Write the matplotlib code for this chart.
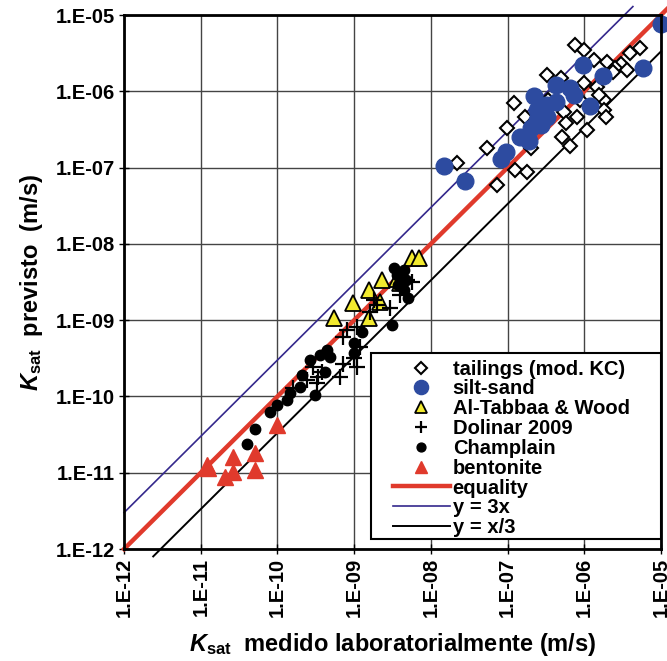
import matplotlib
matplotlib.use("Agg")
import matplotlib.pyplot as plt
from matplotlib.patches import Rectangle
import numpy as np

plt.rcParams.update({
    "font.family": "Liberation Sans",
    "font.weight": "bold",
    "mathtext.fontset": "custom",
    "mathtext.rm": "Liberation Sans:bold",
    "mathtext.it": "Liberation Sans:italic:bold",
    "mathtext.bf": "Liberation Sans:bold",
})

# measured vs predicted Ksat (m/s)
tailings_x = [7.5e-7, 9.9e-7, 5.4e-6, 4.0e-6, 1.33e-6, 2.0e-6, 3.0e-6, 2.55e-6, 3.6e-6,
              3.3e-7, 4.9e-7, 9.9e-7, 1.47e-6, 1.2e-7, 1.7e-7, 8.9e-7, 1.8e-6, 5.4e-7,
              8.1e-7, 1.8e-6, 1.9e-6, 5.7e-7, 9.8e-8, 1.1e-6, 5.1e-7, 6.6e-7, 5.4e-8,
              2.0e-7, 2.2e-8, 1.26e-7, 1.8e-7, 7.3e-8, 2.35e-6, 1.55e-6, 3.4e-7]
tailings_y = [4.0e-6, 3.5e-6, 3.7e-6, 3.15e-6, 2.6e-6, 2.45e-6, 2.3e-6, 2.0e-6, 1.9e-6,
              1.64e-6, 1.48e-6, 1.27e-6, 1.15e-6, 7.1e-7, 4.65e-7, 7.7e-7, 7.7e-7, 5.4e-7,
              4.65e-7, 5.7e-7, 4.65e-7, 3.8e-7, 3.3e-7, 3.1e-7, 2.55e-7, 1.9e-7, 1.8e-7,
              1.8e-7, 1.14e-7, 9.3e-8, 8.8e-8, 5.9e-8, 1.8e-6, 8.9e-7, 7.8e-7]

siltsand_x = [1.0e-5, 9.7e-7, 5.8e-6, 1.75e-6, 4.3e-7, 6.6e-7, 7.3e-7, 2.24e-7, 4.3e-7,
              1.2e-6, 2.4e-7, 3.3e-7, 2.4e-7, 2.0e-7, 1.47e-7, 1.9e-7, 9.4e-8, 8.1e-8,
              1.47e-8, 2.8e-8, 3.2e-7, 2.7e-7]
siltsand_y = [7.6e-6, 2.2e-6, 2.0e-6, 1.6e-6, 1.2e-6, 1.1e-6, 9.0e-7, 8.75e-7, 7.3e-7,
              6.4e-7, 5.7e-7, 4.65e-7, 4.2e-7, 3.3e-7, 2.55e-7, 2.2e-7, 1.6e-7, 1.3e-7,
              1.05e-7, 6.7e-8, 6.6e-7, 3.6e-7]

altabbaa_x = [5.4e-10, 9.6e-10, 1.54e-9, 2.3e-9, 1.54e-9, 2.2e-9, 5.7e-9, 6.9e-9, 3.6e-9, 4.0e-9]
altabbaa_y = [1.06e-9, 1.7e-9, 2.5e-9, 3.4e-9, 1.06e-9, 1.75e-9, 6.5e-9, 6.5e-9, 3.5e-9, 3.05e-9]

dolinar_x = [1.79e-9, 1.98e-9, 2.95e-9, 4.0e-9, 4.9e-9, 8.0e-10, 1.08e-9, 1.2e-9, 9.8e-10,
             7.2e-10, 1.08e-9, 6.6e-10, 2.94e-10, 3.4e-10, 3.26e-10, 2.4e-10, 1.6e-10,
             3.8e-10, 1.62e-9, 7.2e-10, 5.7e-9]
dolinar_y = [1.84e-9, 1.58e-9, 1.43e-9, 2.14e-9, 3.4e-9, 7.4e-10, 8.2e-10, 4.5e-10, 3.2e-10,
             2.7e-10, 2.45e-10, 1.8e-10, 2.45e-10, 1.8e-10, 1.49e-10, 1.64e-10, 1.28e-10,
             2.1e-10, 1.29e-9, 6.1e-10, 3.2e-9]

champlain_x = [3.3e-9, 4.4e-9, 3.6e-9, 5.1e-9, 4.4e-9, 3.1e-9, 1.26e-9, 9.8e-10, 9.8e-10,
               4.4e-10, 3.6e-10, 4.9e-10, 2.67e-10, 4.2e-10, 2.07e-10, 3.1e-10, 1.97e-10,
               1.46e-10, 1.32e-10, 9.8e-11, 8.0e-11, 5.1e-11, 4.0e-11, 3.75e-9, 4.7e-9]
champlain_y = [4.8e-9, 4.55e-9, 3.9e-9, 1.94e-9, 2.5e-9, 8.6e-10, 7.1e-10, 5.0e-10, 3.7e-10,
               4.1e-10, 3.5e-10, 3.3e-10, 3.0e-10, 2.1e-10, 1.9e-10, 1.05e-10, 1.34e-10,
               1.1e-10, 9.0e-11, 7.7e-11, 6.3e-11, 3.8e-11, 2.4e-11, 2.9e-9, 3.4e-9]

bentonite_x = [1.19e-11, 1.25e-11, 9.8e-11, 2.65e-11, 5.1e-11, 2.65e-11, 2.07e-11, 5.1e-11]
bentonite_y = [1.26e-11, 1.15e-11, 4.2e-11, 1.63e-11, 1.8e-11, 1.03e-11, 8.9e-12, 1.09e-11]

# reference line extents
eq_x = [1e-12, 1.2e-5]
y3x_x = [1e-12, 4.3e-6]
yx3_x = [2.4e-12, 1.0e-5]

ticks = [1e-12, 1e-11, 1e-10, 1e-9, 1e-8, 1e-7, 1e-6, 1e-5]
tick_labels = ["1.E-12", "1.E-11", "1.E-10", "1.E-09", "1.E-08", "1.E-07", "1.E-06", "1.E-05"]

fig = plt.figure(figsize=(6.67, 6.61), dpi=100)
ax = fig.add_axes([0.186, 0.1694, 0.805, 0.8079])
ax.set_xscale("log")
ax.set_yscale("log")
ax.set_xlim(1e-12, 1e-5)
ax.set_ylim(1e-12, 1e-5)

ax.plot(tailings_x, tailings_y, linestyle="none", marker="D", ms=7.5, mfc="white",
        mec="black", mew=1.5, label="tailings (mod. KC)", zorder=3)
ax.plot(siltsand_x, siltsand_y, linestyle="none", marker="o", ms=12, mfc="#2d4ba0",
        mec="#2d4ba0", label="silt-sand", zorder=4, clip_on=False)
ax.plot(altabbaa_x, altabbaa_y, linestyle="none", marker="^", ms=11, mfc="#f2ea2e",
        mec="black", mew=1.3, label="Al-Tabbaa & Wood", zorder=3)
ax.plot(dolinar_x, dolinar_y, linestyle="none", marker="+", ms=11, mec="black",
        mew=1.6, label="Dolinar 2009", zorder=3)
ax.plot(champlain_x, champlain_y, linestyle="none", marker="o", ms=7.5, mfc="black",
        mec="black", label="Champlain", zorder=3)
ax.plot(bentonite_x, bentonite_y, linestyle="none", marker="^", ms=11, mfc="#e03a2c",
        mec="#e03a2c", label="bentonite", zorder=3)

eq_x = np.array(eq_x)
y3x_x = np.array(y3x_x)
yx3_x = np.array(yx3_x)
ax.plot(eq_x, eq_x, color="#e03a2c", lw=3.2, label="equality", zorder=2, clip_on=False)
ax.plot(y3x_x, 3 * y3x_x, color="#34288c", lw=1.2, label="y = 3x", zorder=2, clip_on=False)
ax.plot(yx3_x, yx3_x / 3, color="black", lw=1.4, label="y = x/3", zorder=2, clip_on=False)

ax.set_xticks(ticks)
ax.set_xticklabels(tick_labels, rotation=90)
ax.set_yticks(ticks)
ax.set_yticklabels(tick_labels)
ax.minorticks_off()
ax.tick_params(axis="both", labelsize=14.5, length=7, width=1, direction="inout", pad=3)
for lab in ax.get_xticklabels() + ax.get_yticklabels():
    lab.set_fontweight("bold")

ax.grid(True, which="major", color="#444444", lw=1.0, zorder=0)
ax.set_axisbelow(True)
for sp in ax.spines.values():
    sp.set_linewidth(2.0)
    sp.set_zorder(5)

ax.set_xlabel(r"$K_{\mathrm{sat}}$  medido laboratorialmente (m/s)", fontsize=17,
              fontweight="bold", labelpad=10)
ax.set_ylabel(r"$K_{\mathrm{sat}}$  previsto  (m/s)", fontsize=17,
              fontweight="bold", labelpad=8)

# legend box drawn by hand: wider than its contents, as in the source figure
box = Rectangle((0.46, 0.0187), 0.54, 0.348, transform=ax.transAxes, facecolor="white",
                edgecolor="black", lw=1.5, zorder=6, clip_on=False)
ax.add_patch(box)
leg = ax.legend(loc="upper left", bbox_to_anchor=(0.492, 0.364), borderaxespad=0,
                labelspacing=0.04, handlelength=2.8, handletextpad=0.15,
                borderpad=0.25, frameon=False, markerscale=0.85,
                prop={"weight": "bold", "size": 14.5})
leg.set_zorder(7)

fig.savefig("out.png", dpi=100)
